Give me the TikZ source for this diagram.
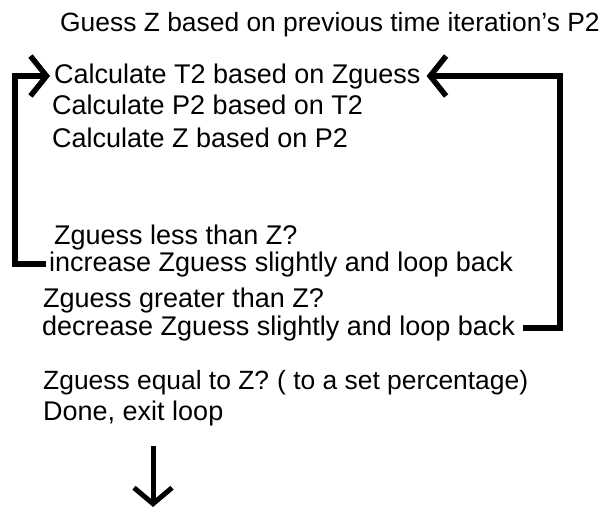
\documentclass[tikz,border=0pt]{standalone}
\usepackage{fontspec}
\setmainfont{Liberation Sans}
\usetikzlibrary{arrows.meta}
\begin{document}
\begin{tikzpicture}[x=1pt,y=-1pt,
  txt/.style={anchor=base west,inner sep=0pt,font=\fontsize{27}{30}\selectfont},
  loopline/.style={line width=6pt,line join=miter,
    -{Straight Barb[length=16pt,width=40pt,line width=5.5pt]}},
  exitline/.style={line width=5pt,
    -{Straight Barb[length=16pt,width=38pt,line width=5pt]}}]
\useasboundingbox (0,0) rectangle (601,512);
\fill[white] (0,0) rectangle (601,512);
\node[txt,font=\fontsize{26.4}{30}\selectfont] (L1) at (60,31) {Guess Z based on previous time iteration's P2};
\node[txt] (L2) at (54,83) {Calculate T2 based on Zguess};
\node[txt] (L3) at (52,114) {Calculate P2 based on T2};
\node[txt] (L4) at (52,147) {Calculate Z based on P2};
\node[txt] (L5) at (54,244) {Zguess less than Z?};
\node[txt] (L6) at (49,271) {increase Zguess slightly and loop back};
\node[txt] (L7) at (43,307) {Zguess greater than Z?};
\node[txt] (L8) at (42,335) {decrease Zguess slightly and loop back};
\node[txt,font=\fontsize{26.4}{30}\selectfont] (L9) at (43,389) {Zguess equal to Z?\hspace{8pt}( to a set percentage)};
\node[txt] (L10) at (43,420) {Done, exit loop};
\coordinate (exitend) at (153,507);
% left loop (increase)
\draw[loopline] ([xshift=-3pt]L6.west) -- ++(-31,0) |- ([xshift=-4pt]L2.west);
% right loop (decrease)
\draw[loopline] ([xshift=8pt]L8.east) -| (560,0 |- L2.east) -- ([xshift=6pt]L2.east);
% exit
\draw[exitline] (153,446) -- (exitend);
\end{tikzpicture}
\end{document}
